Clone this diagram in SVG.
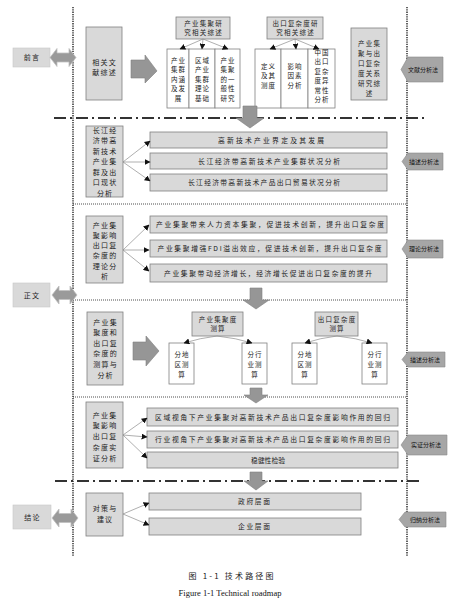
<svg xmlns="http://www.w3.org/2000/svg" width="462" height="611" viewBox="0 0 462 611">
<style>
.t{font-family:"Noto Sans CJK SC","Liberation Sans",sans-serif;font-size:6.5px;letter-spacing:1.2px;fill:#222;text-anchor:middle}
.tl{font-family:"Noto Sans CJK SC","Liberation Sans",sans-serif;font-size:7px;letter-spacing:1.2px;fill:#222;text-anchor:middle}
.tw{font-family:"Noto Sans CJK SC","Liberation Sans",sans-serif;font-size:6.8px;fill:#222;text-anchor:middle}
.m{font-family:"Noto Sans CJK SC","Liberation Sans",sans-serif;font-size:6px;fill:#111;text-anchor:middle}
.g{fill:#d9d9d9;stroke:#808080;stroke-width:0.8}
.w{fill:#ffffff;stroke:#808080;stroke-width:0.8}
.lab{fill:#d9d9d9;stroke:#c8c8c8;stroke-width:0.6}
.ma{fill:#a6a6a6;stroke:#8a8a8a;stroke-width:0.6}
.ba{fill:#969696;stroke:#7f7f7f;stroke-width:0.6}
.da{fill:#9a9a9a;stroke:#c0c0c0;stroke-width:0.8}
.c{stroke:#8c8c8c;stroke-width:0.7;fill:none;marker-end:url(#ah)}
.vd{stroke:#111;stroke-width:1.3;stroke-dasharray:1.3 1;fill:none}
.hd{stroke:#222;stroke-width:0.8;stroke-dasharray:1 1;fill:none}
.dd{stroke:#333;stroke-width:2.2;stroke-dasharray:12 4 2 4;fill:none}
</style>
<defs>
<marker id="ah" viewBox="0 0 10 10" refX="9" refY="5" markerWidth="6" markerHeight="6" markerUnits="userSpaceOnUse" orient="auto">
<path d="M0,0 L10,5 L0,10 z" fill="#111"/>
</marker>
</defs>
<rect width="462" height="611" fill="#ffffff"/>

<!-- frame lines -->
<g id="frame">
<line class="vd" x1="73" y1="7" x2="73" y2="556"/>
<line class="vd" x1="407" y1="7" x2="407" y2="556"/>
<line class="dd" x1="54" y1="118" x2="428" y2="118"/>
<line class="dd" x1="55" y1="481" x2="420" y2="481"/>
<line class="hd" x1="73" y1="204" x2="407" y2="204"/>
<line class="hd" x1="73" y1="300" x2="407" y2="300"/>
<line class="hd" x1="73" y1="397" x2="407" y2="397"/>
</g>

<!-- left stage labels -->
<g id="qianyan">
<rect class="lab" x="13" y="48" width="37" height="19"/>
<text class="tl" x="32" y="60">前言</text>
<path class="da" d="M50,57.5 L57,48.5 L57,53 L69,53 L69,48.5 L76,57.5 L69,66.5 L69,62 L57,62 L57,66.5 z"/>
</g>
<g id="zhengwen">
<rect class="lab" x="13" y="283" width="37" height="24"/>
<text class="tl" x="32" y="298">正文</text>
<path class="da" d="M52,295 L59,286 L59,290.5 L70,290.5 L70,286 L77,295 L70,304 L70,299.5 L59,299.5 L59,304 z"/>
</g>
<g id="jielun">
<rect class="lab" x="13" y="505" width="38" height="24"/>
<text class="tl" x="32.5" y="520">结论</text>
<path class="da" d="M52,518 L59,509 L59,513.5 L71,513.5 L71,509 L78,518 L71,527 L71,522.5 L59,522.5 L59,527 z"/>
</g>

<!-- section 1 -->
<g id="xgwx">
<rect class="g" x="86" y="27" width="36" height="73"/>
<text class="tl" x="104.6" y="64.5">相关文<tspan x="104.6" dy="10.5">献综述</tspan></text>
</g>
<g id="bigarrow1">
<path class="ba" d="M131,60 L145,60 L145,55 L157,71 L145,83 L145,78 L131,78 z"/>
</g>
<g id="cyjj">
<rect class="g" x="176" y="17" width="54" height="22"/>
<text class="t" x="203.6" y="25.5">产业集聚研<tspan x="203.6" dy="9.5">究相关综述</tspan></text>
</g>
<g id="cyjj1">
<rect class="w" x="167" y="49" width="22" height="59"/>
<text class="t" x="178.6" y="62.5">产业<tspan x="178.6" dy="9.5">集群</tspan><tspan x="178.6" dy="9.5">内涵</tspan><tspan x="178.6" dy="9.5">及发</tspan><tspan x="178.6" dy="9.5">展</tspan></text>
</g>
<g id="cyjj2">
<rect class="w" x="189" y="49" width="26" height="59"/>
<text class="t" x="202.6" y="62.5">区域<tspan x="202.6" dy="9.5">产业</tspan><tspan x="202.6" dy="9.5">集群</tspan><tspan x="202.6" dy="9.5">理论</tspan><tspan x="202.6" dy="9.5">基础</tspan></text>
</g>
<g id="cyjj3">
<rect class="w" x="215" y="49" width="25" height="59"/>
<text class="t" x="228.1" y="62.5">产业<tspan x="228.1" dy="9.5">集聚</tspan><tspan x="228.1" dy="9.5">的一</tspan><tspan x="228.1" dy="9.5">般性</tspan><tspan x="228.1" dy="9.5">研究</tspan></text>
</g>
<g id="ckfz">
<rect class="g" x="267" y="17" width="56" height="22"/>
<text class="t" x="295.6" y="25.5">出口复杂度研<tspan x="295.6" dy="9.5">究相关综述</tspan></text>
</g>
<g id="ckfz1">
<rect class="w" x="255" y="49" width="26" height="59"/>
<text class="t" x="268.6" y="68.5">定义<tspan x="268.6" dy="9.5">及其</tspan><tspan x="268.6" dy="9.5">测度</tspan></text>
</g>
<g id="ckfz2">
<rect class="w" x="281" y="49" width="27" height="59"/>
<text class="t" x="295.1" y="68.5">影响<tspan x="295.1" dy="9.5">因素</tspan><tspan x="295.1" dy="9.5">分析</tspan></text>
</g>
<g id="ckfz3">
<rect class="w" x="308" y="49" width="27" height="59"/>
<text class="t" x="322.1" y="54.5">中国<tspan x="322.1" dy="9.5">出口</tspan><tspan x="322.1" dy="9.5">复杂</tspan><tspan x="322.1" dy="9.5">度异</tspan><tspan x="322.1" dy="9.5">常性</tspan><tspan x="322.1" dy="9.5">分析</tspan></text>
</g>
<g id="gxzs">
<rect class="g" x="351" y="28" width="36" height="72"/>
<text class="t" x="369.6" y="45.5">产业集<tspan x="369.6" dy="10">聚与出</tspan><tspan x="369.6" dy="10">口复杂</tspan><tspan x="369.6" dy="10">度关系</tspan><tspan x="369.6" dy="10">研究综</tspan><tspan x="369.6" dy="10">述</tspan></text>
</g>
<g id="wxfx">
<path class="ma" d="M401,69.5 L408,57 L443,57 L443,82 L408,82 z"/>
<text class="m" x="423" y="71.5">文献分析法</text>
</g>

<!-- section 2 -->
<g id="down1"><path class="ba" d="M243,106 L257,106 L257,118 L264,118 L250,128 L236,118 L243,118 z"/></g>
<g id="xz">
<rect class="g" x="86" y="126" width="37" height="71"/>
<text class="tl" x="105.1" y="132.5">长江经<tspan x="105.1" dy="10.5">济带高</tspan><tspan x="105.1" dy="10.5">新技术</tspan><tspan x="105.1" dy="10.5">产业集</tspan><tspan x="105.1" dy="10.5">群及出</tspan><tspan x="105.1" dy="10.5">口现状</tspan><tspan x="105.1" dy="10.5">分析</tspan></text>
</g>
<g id="xz1"><rect class="g" x="150" y="132" width="237" height="16"/><text class="tw" x="271" y="142.5" textLength="106" lengthAdjust="spacing">高新技术产业界定及其发展</text></g>
<g id="xz2"><rect class="g" x="150" y="153" width="237" height="16"/><text class="tw" x="269" y="163.5" textLength="142" lengthAdjust="spacing">长江经济带高新技术产业集群状况分析</text></g>
<g id="xz3"><rect class="g" x="150" y="174" width="237" height="17"/><text class="tw" x="264" y="185" textLength="152" lengthAdjust="spacing">长江经济带高新技术产品出口贸易状况分析</text></g>
<g id="msfx1">
<path class="ma" d="M402,161.5 L408,153 L443,153 L443,170 L408,170 z"/>
<text class="m" x="424" y="163.6">描述分析法</text>
</g>

<!-- section 3 -->
<g id="ll">
<rect class="g" x="86" y="216" width="37" height="67"/>
<text class="tl" x="105.1" y="227.5">产业集<tspan x="105.1" dy="10.3">聚影响</tspan><tspan x="105.1" dy="10.3">出口复</tspan><tspan x="105.1" dy="10.3">杂度的</tspan><tspan x="105.1" dy="10.3">理论分</tspan><tspan x="105.1" dy="10.3">析</tspan></text>
</g>
<g id="ll1"><rect class="g" x="150" y="216" width="237" height="17"/><text class="tw" x="270" y="227" textLength="228" lengthAdjust="spacing">产业集聚带来人力资本集聚，促进技术创新，提升出口复杂度</text></g>
<g id="ll2"><rect class="g" x="150" y="240" width="237" height="17"/><text class="tw" x="269.5" y="251" textLength="224" lengthAdjust="spacing">产业集聚增强FDI溢出效应，促进技术创新，提升出口复杂度</text></g>
<g id="ll3"><rect class="g" x="150" y="264" width="237" height="18"/><text class="tw" x="268" y="275.5" textLength="208" lengthAdjust="spacing">产业集聚带动经济增长，经济增长促进出口复杂度的提升</text></g>
<g id="llfx">
<path class="ma" d="M402,249 L408,240 L443,240 L443,258 L408,258 z"/>
<text class="m" x="424" y="251.2">理论分析法</text>
</g>

<!-- section 4 -->
<g id="down2"><path class="ba" d="M250,288 L262,288 L262,300 L269,300 L256,309 L243,300 L250,300 z"/></g>
<g id="cs">
<rect class="g" x="87" y="312" width="36" height="73"/>
<text class="tl" x="105.6" y="324.5">产业集<tspan x="105.6" dy="10.6">聚度和</tspan><tspan x="105.6" dy="10.6">出口复</tspan><tspan x="105.6" dy="10.6">杂度的</tspan><tspan x="105.6" dy="10.6">测算与</tspan><tspan x="105.6" dy="10.6">分析</tspan></text>
</g>
<g id="bigarrow2">
<path class="ba" d="M133,342 L146,342 L146,336 L159,351 L146,366 L146,360 L133,360 z"/>
</g>
<g id="jjdcs">
<rect class="g" x="192" y="312" width="51" height="24"/>
<text class="t" x="218.1" y="321.5">产业集聚度<tspan x="218.1" dy="9.5">测算</tspan></text>
</g>
<g id="jjd1">
<rect class="w" x="169" y="343" width="25" height="41"/>
<text class="t" x="182.1" y="356.5">分地<tspan x="182.1" dy="10">区测</tspan><tspan x="182.1" dy="10">算</tspan></text>
</g>
<g id="jjd2">
<rect class="w" x="242" y="343" width="25" height="41"/>
<text class="t" x="255.1" y="356.5">分行<tspan x="255.1" dy="10">业测</tspan><tspan x="255.1" dy="10">算</tspan></text>
</g>
<g id="fzdcs">
<rect class="g" x="315" y="312" width="43" height="24"/>
<text class="t" x="337.1" y="321.5">出口复杂度<tspan x="337.1" dy="9.5">测算</tspan></text>
</g>
<g id="fzd1">
<rect class="w" x="292" y="343" width="25" height="41"/>
<text class="t" x="305.1" y="356.5">分地<tspan x="305.1" dy="10">区测</tspan><tspan x="305.1" dy="10">算</tspan></text>
</g>
<g id="fzd2">
<rect class="w" x="362" y="343" width="25" height="41"/>
<text class="t" x="375.1" y="356.5">分行<tspan x="375.1" dy="10">业测</tspan><tspan x="375.1" dy="10">算</tspan></text>
</g>
<g id="msfx2">
<path class="ma" d="M402,359.5 L408,352 L445,352 L445,367 L408,367 z"/>
<text class="m" x="425" y="361.6">描述分析法</text>
</g>

<!-- section 5 -->
<g id="down3"><path class="ba" d="M250,388 L262,388 L262,395 L268,395 L256,403 L244,395 L250,395 z"/></g>
<g id="sz">
<rect class="g" x="86" y="402" width="37" height="66"/>
<text class="tl" x="105.1" y="417.5">产业集<tspan x="105.1" dy="10.8">聚影响</tspan><tspan x="105.1" dy="10.8">出口复</tspan><tspan x="105.1" dy="10.8">杂度实</tspan><tspan x="105.1" dy="10.8">证分析</tspan></text>
</g>
<g id="sz1"><rect class="g" x="147" y="408" width="251" height="18"/><text class="tw" x="272.5" y="419.5" textLength="235" lengthAdjust="spacing">区域视角下产业集聚对高新技术产品出口复杂度影响作用的回归</text></g>
<g id="sz2"><rect class="g" x="147" y="431" width="251" height="17"/><text class="tw" x="272.5" y="442" textLength="235" lengthAdjust="spacing">行业视角下产业集聚对高新技术产品出口复杂度影响作用的回归</text></g>
<g id="sz3"><rect class="g" x="147" y="452" width="251" height="16"/><text class="tw" x="268" y="462.5" textLength="34" lengthAdjust="spacing">稳健性检验</text></g>
<g id="szfx">
<path class="ma" d="M401,445 L408,435 L447,435 L447,455 L408,455 z"/>
<text class="m" x="426" y="447.2">实证分析法</text>
</g>

<!-- section 6 -->
<g id="down4"><path class="ba" d="M250,472 L262,472 L262,481 L268,481 L256,490 L244,481 L250,481 z"/></g>
<g id="dc">
<rect class="g" x="86" y="493" width="37" height="43"/>
<text class="tl" x="105.1" y="510.5">对策与<tspan x="105.1" dy="11">建议</tspan></text>
</g>
<g id="dc1"><rect class="g" x="149" y="493" width="212" height="17"/><text class="tw" x="254" y="504" textLength="32" lengthAdjust="spacing">政府层面</text></g>
<g id="dc2"><rect class="g" x="149" y="518" width="212" height="17"/><text class="tw" x="254" y="529" textLength="32" lengthAdjust="spacing">企业层面</text></g>
<g id="gnfx">
<path class="ma" d="M399,519.5 L405,512 L446,512 L446,527 L405,527 z"/>
<text class="m" x="425" y="521.6">归纳分析法</text>
</g>

<!-- connectors -->
<g id="connectors">
<line class="c" x1="203" y1="39" x2="180" y2="49"/>
<line class="c" x1="203" y1="39" x2="202" y2="49"/>
<line class="c" x1="203" y1="39" x2="228" y2="49"/>
<line class="c" x1="295" y1="39" x2="270" y2="49"/>
<line class="c" x1="295" y1="39" x2="296" y2="49"/>
<line class="c" x1="295" y1="39" x2="319" y2="49"/>
<line class="c" x1="123" y1="162" x2="150" y2="141"/>
<line class="c" x1="123" y1="162" x2="150" y2="162"/>
<line class="c" x1="123" y1="162" x2="150" y2="181"/>
<line class="c" x1="123" y1="250" x2="149" y2="225"/>
<line class="c" x1="123" y1="250" x2="149" y2="250"/>
<line class="c" x1="123" y1="250" x2="149" y2="271"/>
<path class="c" d="M217,336 Q200,338 184,343"/>
<path class="c" d="M217,336 Q236,338 252,343"/>
<path class="c" d="M337,336 Q320,338 305,343"/>
<path class="c" d="M337,336 Q356,338 372,343"/>
<line class="c" x1="123" y1="435" x2="147" y2="418"/>
<line class="c" x1="123" y1="435" x2="147" y2="437"/>
<line class="c" x1="123" y1="435" x2="147" y2="458"/>
<line class="c" x1="123" y1="514" x2="149" y2="503"/>
<line class="c" x1="123" y1="514" x2="149" y2="525"/>
</g>

<!-- caption -->
<g id="caption">
<text x="231" y="579" textLength="85" lengthAdjust="spacing" style="font-family:'Noto Sans CJK SC','Liberation Serif',serif;font-size:8px;fill:#222;text-anchor:middle">图 1-1 技术路径图</text>
<text x="230" y="596" textLength="103" lengthAdjust="spacing" style="font-family:'Liberation Serif',serif;font-size:8.5px;fill:#111;text-anchor:middle">Figure 1-1 Technical roadmap</text>
</g>
</svg>
